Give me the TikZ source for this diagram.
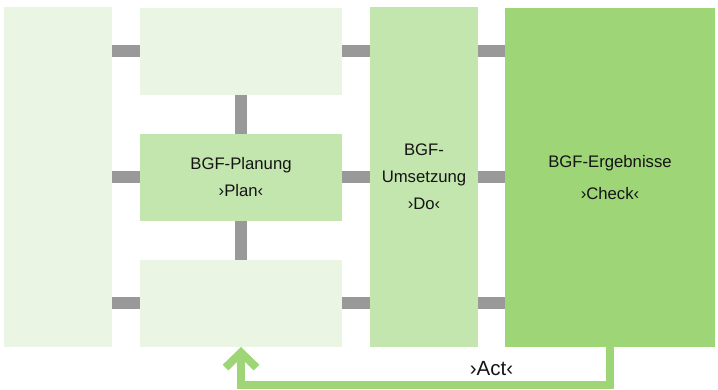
\documentclass[tikz,border=0pt]{standalone}
\usepackage{fontspec}
\setmainfont{Liberation Sans}
\usetikzlibrary{arrows.meta}
\definecolor{paleGreen}{HTML}{EAF6E3}
\definecolor{midGreen}{HTML}{C3E5AE}
\definecolor{strongGreen}{HTML}{9DD577}
\definecolor{linkGray}{HTML}{999999}
\definecolor{ink}{HTML}{141414}
\tikzset{
  box/.style={rectangle, inner sep=0pt, outer sep=0pt, text=ink, align=center,
    font=\fontsize{16.7}{27}\selectfont},
  link/.style={draw=linkGray, line width=12pt},
  actloop/.style={draw=strongGreen, line width=8pt,
    -{Straight Barb[sharp, length=15pt, width=31pt, line width=8pt]}},
}
\begin{document}
\begin{tikzpicture}[x=1pt, y=-1pt]
  \useasboundingbox (0,0) rectangle (718,389);

  % phase boxes
  \node[box, fill=paleGreen, minimum width=108pt, minimum height=340pt] (prep) at (58,177) {};
  \node[box, fill=paleGreen, minimum width=202pt, minimum height=87pt] (upper) at (241,51.5) {};
  \node[box, fill=midGreen, minimum width=202pt, minimum height=87pt] (plan) at (241,177.5)
    {BGF-Planung\\›Plan‹};
  \node[box, fill=paleGreen, minimum width=202pt, minimum height=87pt] (lower) at (241,303.5) {};
  \node[box, fill=midGreen, minimum width=108pt, minimum height=340pt] (do) at (424,177)
    {BGF-\\Umsetzung\\›Do‹};
  \node[box, fill=strongGreen, minimum width=210pt, minimum height=339pt,
    font=\fontsize{16.7}{32}\selectfont] (check) at (610,177.5)
    {BGF-Ergebnisse\\›Check‹};

  % gray links, three rows
  \foreach \row/\yy in {upper/51, plan/177, lower/303} {
    \draw[link] (prep.east |- 0,\yy) -- (\row.west |- 0,\yy);
    \draw[link] (\row.east |- 0,\yy) -- (do.west |- 0,\yy);
    \draw[link] (do.east |- 0,\yy) -- (check.west |- 0,\yy);
  }
  \draw[link] (upper) -- (plan);
  \draw[link] (plan) -- (lower);

  % feedback loop
  \draw[actloop] (check.south) -- ++(0,38) -| (lower.south);
  \node[text=ink, font=\fontsize{20.5}{24}\selectfont] (act) at (491.5,368.5) {›Act‹};
\end{tikzpicture}
\end{document}
